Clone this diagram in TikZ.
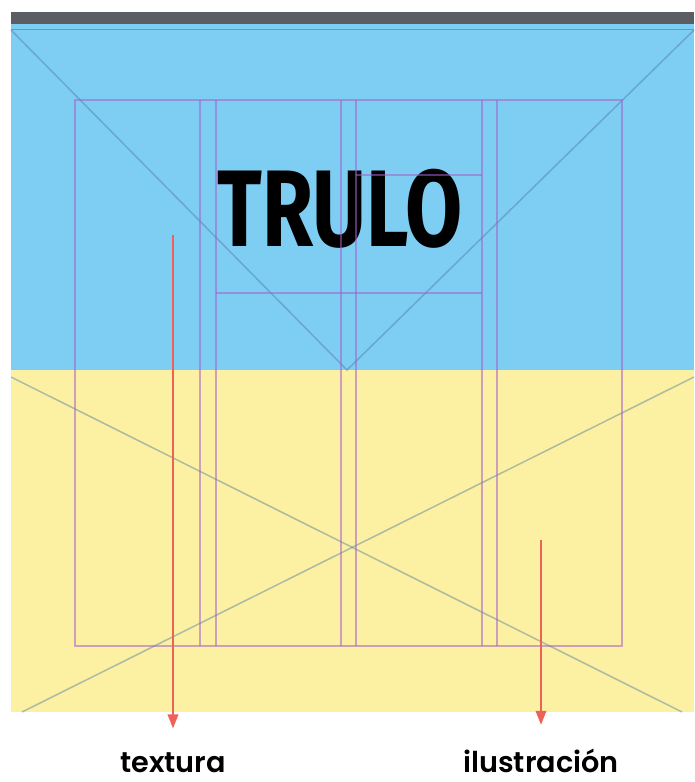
\documentclass[tikz,border=0pt]{standalone}
\usepackage{fontspec}
\setmainfont{Poppins}[BoldFont={Poppins SemiBold}]
\newfontfamily\trulofont{Fira Sans}
\usetikzlibrary{arrows.meta, positioning}

\definecolor{cielo}{RGB}{126,206,244}
\definecolor{arena}{RGB}{252,241,163}
\definecolor{barra}{RGB}{90,94,99}
\definecolor{guia}{RGB}{165,95,205}
\definecolor{diag}{RGB}{80,120,160}
\definecolor{flecha}{RGB}{238,98,88}

\begin{document}
\begin{tikzpicture}[x=0.03cm, y=-0.03cm,
    guide/.style={draw=guia, opacity=0.55, line width=1.7pt},
    diagonal/.style={draw=diag, opacity=0.45, line width=1.3pt},
    pointer/.style={draw=flecha, line width=1.6pt, -{Triangle[length=12pt, width=9pt]}},
    caption/.style={font=\bfseries\fontsize{24.5}{28}\selectfont, inner sep=0pt, anchor=base}]
      \useasboundingbox (0,0) rectangle (694,782);

      % Background: sky, sand and the top bar
      \fill[cielo] (11,24) rectangle (694,370);
      \fill[arena] (11,370) rectangle (694,712);
      \fill[barra] (11,12) rectangle (694,24);
      \draw[diag, opacity=0.6] (11,29) -- (694,29);

      % Diagonals
      \draw[diagonal] (11,30) -- (347,370) -- (694,30);
      \draw[diagonal] (11,377) -- (682,712);
      \draw[diagonal] (694,377) -- (22,712);

      % Title
      \node[anchor=base, inner sep=0pt] (title) at (340,246)
            {\scalebox{0.76}[1]{\trulofont\bfseries\fontsize{93}{93}\selectfont TRULO}};

      % Layout guides
      \draw[guide] (75,100) rectangle (622,646);
      \foreach \gx in {200,216,341,356,482,497}
        \draw[guide] (\gx,100) -- (\gx,646);
      \draw[guide] (356,175) -- (482,175);
      \draw[guide] (216,293) -- (482,293);

      % Labels and pointers
      \node[caption] (textura) at (173,772) {textura};
      \node[caption] (ilustracion) at (541,772) {ilustración};
      \coordinate (texstart) at (173,235);
      \coordinate (ilustart) at (541,540);
      \path (texstart) edge [pointer, shorten >=20pt] (textura.north)
            (ilustart) edge [pointer, shorten >=20pt] (ilustracion.north);
\end{tikzpicture}
\end{document}
